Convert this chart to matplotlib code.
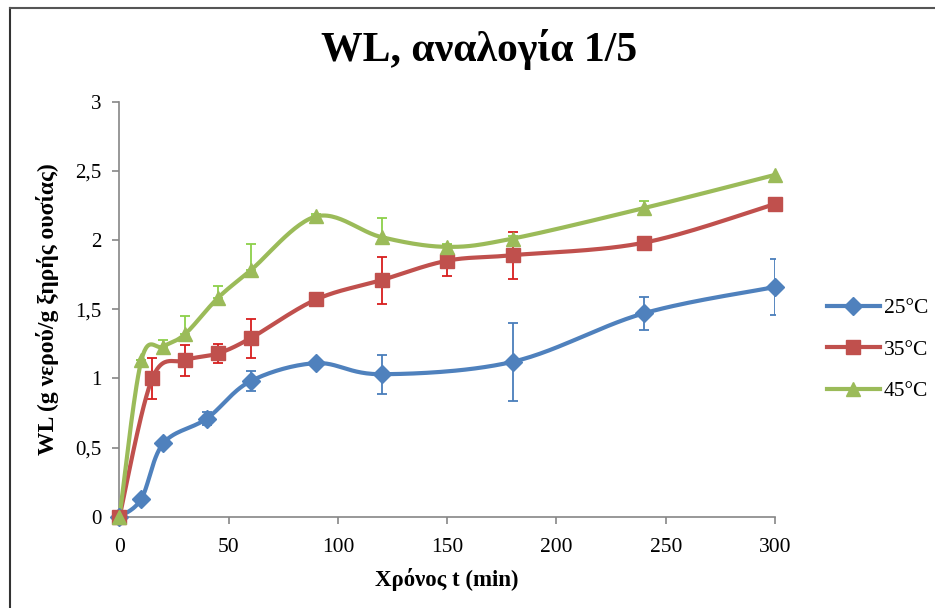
import numpy as np
import matplotlib.pyplot as plt
from matplotlib.ticker import FuncFormatter
from matplotlib.lines import Line2D

plt.rcParams['font.family'] = ['Liberation Serif', 'DejaVu Serif']

# Δεδομένα (χρόνος σε min, WL σε g νερού / g ξηρής ουσίας)
t_25 = [0, 10, 20, 40, 60, 90, 120, 180, 240, 300]
wl_25 = [0, 0.13, 0.53, 0.71, 0.98, 1.11, 1.03, 1.12, 1.47, 1.66]
err_25 = [0, 0.02, 0.02, 0.05, 0.07, 0.02, 0.14, 0.28, 0.12, 0.20]

t_35 = [0, 15, 30, 45, 60, 90, 120, 150, 180, 240, 300]
wl_35 = [0, 1.00, 1.13, 1.18, 1.29, 1.57, 1.71, 1.85, 1.89, 1.98, 2.26]
err_35 = [0, 0.15, 0.11, 0.07, 0.14, 0.01, 0.17, 0.11, 0.17, 0.0, 0.0]

t_45 = [0, 10, 20, 30, 45, 60, 90, 120, 150, 180, 240, 300]
wl_45 = [0, 1.13, 1.23, 1.32, 1.58, 1.78, 2.17, 2.02, 1.95, 2.01, 2.23, 2.47]
err_45 = [0, 0.0, 0.05, 0.13, 0.09, 0.19, 0.02, 0.14, 0.02, 0.02, 0.05, 0.0]

series = [
    ("25°C", t_25, wl_25, err_25, "#4F81BD", "#4A7EBB", "D", 9, "both"),
    ("35°C", t_35, wl_35, err_35, "#C0504D", "#D81E1E", "s", 10, "both"),
    ("45°C", t_45, wl_45, err_45, "#9BBB59", "#8CD04A", "^", 10, "upper"),
]


def smooth(x, y, sx, sy, n=30):
    """Ομαλή καμπύλη τύπου Excel (Bezier / Catmull-Rom)."""
    p = np.column_stack([np.asarray(x, float) * sx, np.asarray(y, float) * sy])
    pts = []
    for i in range(len(p) - 1):
        p0 = p[i - 1] if i > 0 else p[i]
        p1, p2 = p[i], p[i + 1]
        p3 = p[i + 2] if i + 2 < len(p) else p[i + 1]
        c1 = p1 + (p2 - p0) / 6
        c2 = p2 - (p3 - p1) / 6
        s = np.linspace(0, 1, n)[:, None]
        b = ((1 - s) ** 3) * p1 + 3 * ((1 - s) ** 2) * s * c1 + 3 * (1 - s) * s ** 2 * c2 + s ** 3 * p2
        pts.append(b)
    pts = np.vstack(pts)
    return pts[:, 0] / sx, pts[:, 1] / sy


fig = plt.figure(figsize=(9.35, 6.08), dpi=100)
ax = fig.add_axes([0.1278, 0.150, 0.701, 0.683])

# πλαίσιο γραφήματος (αριστερά και πάνω)
fig.add_artist(Line2D([0.0102, 0.0102], [0, 0.987], color="#333333", lw=1.5))
fig.add_artist(Line2D([0.0102, 1.0], [0.987, 0.987], color="#555555", lw=1.5))

sx = 655 / 300
sy = 415 / 3
handles = []
for label, t, wl, err, col, ecol, mk, ms, mode in series:
    err = np.array(err)
    if mode == "both":
        yerr = [err, err]
    else:
        yerr = [np.zeros_like(err), err]
    ax.errorbar(t, wl, yerr=yerr, fmt="none", ecolor=ecol, elinewidth=1.3,
                capsize=3.5, capthick=1.3, zorder=2)
    xs, ys = smooth(t, wl, sx, sy)
    ax.plot(xs, ys, color=col, lw=3, zorder=3, solid_capstyle="round", clip_on=False)
    ax.plot(t, wl, linestyle="none", marker=mk, color=col, markersize=ms, zorder=4,
            clip_on=False)
    handles.append(Line2D([], [], color=col, lw=3, marker=mk, markersize=ms, label=label))

ax.set_xlim(0, 300)
ax.set_ylim(0, 3)
ax.set_xticks(range(0, 301, 50))
ax.set_yticks(np.arange(0, 3.01, 0.5))
ax.yaxis.set_major_formatter(FuncFormatter(lambda v, p: ("%g" % v).replace(".", ",")))

for s in ["top", "right"]:
    ax.spines[s].set_visible(False)
for s in ["left", "bottom"]:
    ax.spines[s].set_color("#868686")
    ax.spines[s].set_linewidth(1.2)
ax.tick_params(colors="#868686", labelcolor="black", labelsize=15.5, length=5, width=1.2)
ax.tick_params(axis="x", pad=10)
ax.tick_params(axis="y", pad=8)
for lbl in ax.get_yticklabels():
    lbl.set_fontsize(15)

fig.text(0.512, 0.918, "WL, αναλογία 1/5", ha="center", va="center",
         fontsize=30, fontweight="bold")
ax.set_xlabel("Χρόνος t (min)", fontsize=16.5, fontweight="bold", labelpad=8)
ax.set_ylabel("WL (g νερού/g ξηρής ουσίας)", fontsize=17, fontweight="bold", labelpad=12)

fig.legend(handles=handles, loc="center left", bbox_to_anchor=(0.884, 0.425),
           frameon=False, fontsize=15.5, handlelength=2.5, handletextpad=0.15,
           labelspacing=1.0, borderaxespad=0, borderpad=0)

fig.savefig("out.png", dpi=100)
